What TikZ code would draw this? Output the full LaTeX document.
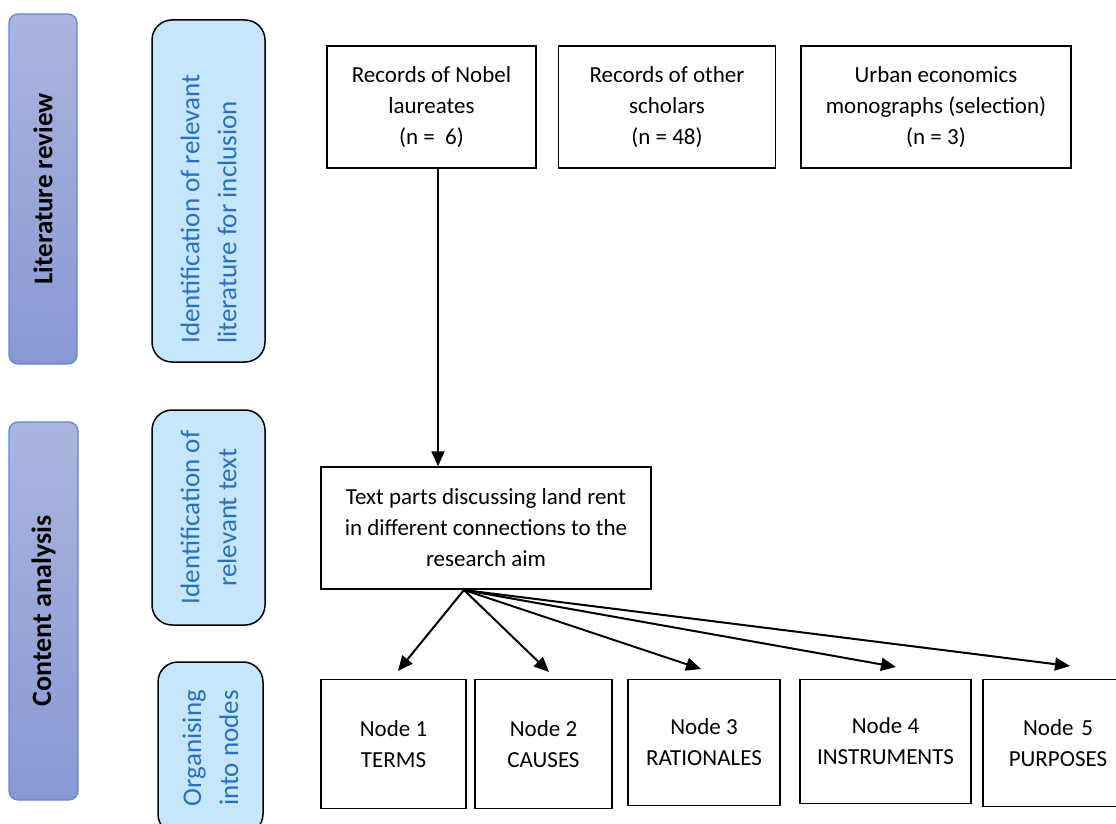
\documentclass[tikz,border=0pt]{standalone}
\usepackage{fontspec}
\setmainfont{Carlito}
\usetikzlibrary{arrows.meta}
\definecolor{barTop}{RGB}{170,182,222}
\definecolor{barBot}{RGB}{136,152,212}
\definecolor{barLine}{RGB}{95,135,210}
\definecolor{lightFill}{RGB}{198,230,252}
\definecolor{blueText}{RGB}{40,112,190}
\tikzset{
  phasebar/.style={rotate=90, rounded corners=9pt, draw=barLine, line width=1.2pt,
    top color=barTop, bottom color=barBot, inner sep=0pt,
    font=\fontsize{27}{32}\selectfont\bfseries, text=black},
  stepbox/.style={rotate=90, rounded corners=20pt, draw=black, line width=1.5pt,
    fill=lightFill, inner sep=0pt, align=center,
    font=\fontsize{27}{37}\selectfont, text=blueText},
  recbox/.style={draw=black, line width=1.4pt, inner sep=0pt, align=center,
    font=\fontsize{23}{31}\selectfont},
  arr/.style={line width=2pt, -{Triangle[length=15pt,width=13pt]}}
}
\begin{document}
\begin{tikzpicture}[x=1pt,y=-1pt]
\clip (0,0) rectangle (1116,824);
\fill[white] (0,0) rectangle (1116,824);
% phase bars (rotated: minimum width = vertical extent)
\node[phasebar, minimum width=350, minimum height=68] (litrev) at (43,189) {Literature review};
\node[phasebar, minimum width=378, minimum height=69, font=\fontsize{28}{32}\selectfont\bfseries] (content) at (43.5,611) {Content analysis};
% step boxes
\node[stepbox, minimum width=342, minimum height=113, align=left] (identlit) at (208.5,191)
  {Identification of relevant\hspace*{36pt}\\literature for inclusion};
\node[stepbox, minimum width=215, minimum height=113] (identtext) at (208.5,517.5)
  {Identification of\\relevant text};
\node[stepbox, minimum width=172, minimum height=105] (organise) at (210.5,748)
  {Organising\\into nodes};
% record boxes
\node[recbox, minimum width=209, minimum height=122] (nobel) at (431.5,107)
  {Records of Nobel\\laureates\\(n =\ \ 6)};
\node[recbox, minimum width=217, minimum height=122] (other) at (667,107)
  {Records of other\\scholars\\(n = 48)};
\node[recbox, minimum width=270, minimum height=122] (urban) at (936,107)
  {Urban economics\\monographs (selection)\\(n = 3)};
% text parts
\node[recbox, minimum width=330, minimum height=122] (textparts) at (486,528)
  {Text parts discussing land rent\\in different connections to the\\research aim};
% nodes
\node[recbox, minimum width=145, minimum height=129] (n1) at (393.5,744) {Node 1\\TERMS};
\node[recbox, minimum width=137, minimum height=129] (n2) at (543.5,744) {Node 2\\CAUSES};
\node[recbox, minimum width=152, minimum height=126] (n3) at (704,742.5) {Node 3\\RATIONALES};
\node[recbox, minimum width=171, minimum height=124] (n4) at (885.5,741.5) {Node 4\\INSTRUMENTS};
\node[recbox, minimum width=150, minimum height=127, text width=133, align=center] (n5) at (1058,743) {Node 5\\PURPOSES};
% connectors
\coordinate (fan) at (464,590);
\coordinate (t1) at (398,671);
\coordinate (t2) at (549,672);
\coordinate (t3) at (701,669);
\coordinate (t4) at (896,667);
\coordinate (t5) at (1070,666);
\draw[arr] (nobel.south -| 438,0) -- (textparts.north -| 438,0);
\draw[arr] (fan) -- (t1);
\draw[arr] (fan) -- (t2);
\draw[arr] (fan) -- (t3);
\draw[arr] (fan) -- (t4);
\draw[arr] (fan) -- (t5);
\end{tikzpicture}
\end{document}
